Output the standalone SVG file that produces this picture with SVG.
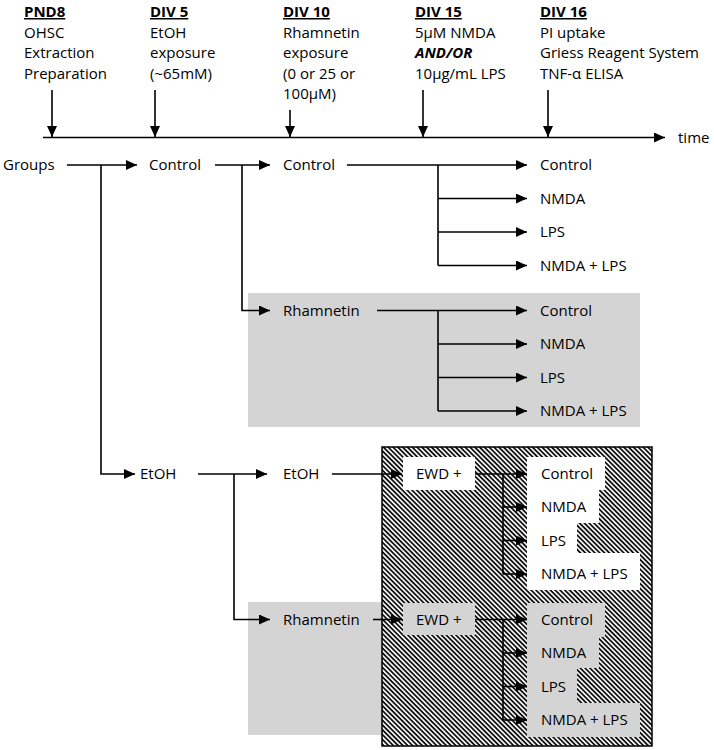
<svg xmlns="http://www.w3.org/2000/svg" width="714" height="750" viewBox="0 0 714 750">
<style>
text{font-family:"Open Sans","Liberation Sans",sans-serif;font-size:15px;fill:#000}
.h{font-weight:bold;text-decoration:underline}
.bi{font-weight:bold;font-style:italic}
.c{fill:none;stroke:#000;stroke-width:1.6}
.a{marker-end:url(#ah)}
.gray{fill:#d4d4d4}
</style>
<defs>
<marker id="ah" markerUnits="userSpaceOnUse" markerWidth="12" markerHeight="11" refX="11" refY="5" orient="auto">
<path d="M0,0 L11,5 L0,10 z" fill="#000"/>
</marker>
<pattern id="hatch" patternUnits="userSpaceOnUse" width="3.4" height="3.4" patternTransform="rotate(45)">
<rect width="3.4" height="3.4" fill="#fff"/>
<rect width="3.4" height="1.8" fill="#111"/>
</pattern>
</defs>

<!-- backgrounds -->
<rect id="rham1-bg" class="gray" x="248" y="293" width="392" height="134"/>
<rect id="rham2-bg" class="gray" x="248" y="602" width="140" height="133"/>
<rect id="ewd-box" x="382" y="447" width="270" height="299" fill="url(#hatch)" stroke="#000" stroke-width="1.5"/>
<rect x="403" y="457" width="72" height="33" fill="#fff"/>
<path d="M527,457 H605 V490 H599 V523 H577 V553 H640 V590 H527 Z" fill="#fff"/>
<rect x="403" y="603" width="72" height="32" fill="#d4d4d4"/>
<path d="M527,603 H605 V637 H599 V668 H577 V703 H640 V737 H527 Z" fill="#d4d4d4"/>

<!-- header -->
<g id="h-pnd8"><text x="24" y="17" class="h">PND8</text><text x="24" y="37.5">OHSC</text><text x="24" y="58">Extraction</text><text x="24" y="78.5">Preparation</text></g>
<g id="h-div5"><text x="150" y="17" class="h">DIV 5</text><text x="150" y="37.5">EtOH</text><text x="150" y="58">exposure</text><text x="150" y="78.5">(~65mM)</text></g>
<g id="h-div10"><text x="283" y="17" class="h">DIV 10</text><text x="283" y="37.5">Rhamnetin</text><text x="283" y="58">exposure</text><text x="283" y="78.5">(0 or 25 or</text><text x="283" y="99">100μM)</text></g>
<g id="h-div15"><text x="415" y="17" class="h">DIV 15</text><text x="415" y="37.5">5μM NMDA</text><text x="415" y="58" class="bi">AND/OR</text><text x="415" y="78.5">10μg/mL LPS</text></g>
<g id="h-div16"><text x="540" y="17" class="h">DIV 16</text><text x="540" y="37.5">PI uptake</text><text x="540" y="58">Griess Reagent System</text><text x="540" y="78.5">TNF-α ELISA</text></g>
<g id="time-label"><text x="678" y="143">time</text></g>

<!-- nodes -->
<g id="groups"><text x="3" y="170">Groups</text></g>
<g id="control1"><text x="149" y="170">Control</text></g>
<g id="control2"><text x="283" y="170">Control</text></g>
<g id="c-control"><text x="540" y="170">Control</text></g>
<g id="c-nmda"><text x="540" y="203.5">NMDA</text></g>
<g id="c-lps"><text x="540" y="237">LPS</text></g>
<g id="c-both"><text x="540" y="270.5">NMDA + LPS</text></g>
<g id="rham1"><text x="283" y="316">Rhamnetin</text></g>
<g id="r-control"><text x="540" y="316">Control</text></g>
<g id="r-nmda"><text x="540" y="349">NMDA</text></g>
<g id="r-lps"><text x="540" y="382.5">LPS</text></g>
<g id="r-both"><text x="540" y="416">NMDA + LPS</text></g>
<g id="etoh1"><text x="140" y="479">EtOH</text></g>
<g id="etoh2"><text x="283" y="479">EtOH</text></g>
<g id="ewd1"><text x="416" y="479">EWD +</text></g>
<g id="e-control"><text x="541" y="479">Control</text></g>
<g id="e-nmda"><text x="541" y="512">NMDA</text></g>
<g id="e-lps"><text x="541" y="545.5">LPS</text></g>
<g id="e-both"><text x="541" y="579">NMDA + LPS</text></g>
<g id="rham2"><text x="283" y="625">Rhamnetin</text></g>
<g id="ewd2"><text x="416" y="625">EWD +</text></g>
<g id="er-control"><text x="541" y="625">Control</text></g>
<g id="er-nmda"><text x="541" y="658">NMDA</text></g>
<g id="er-lps"><text x="541" y="691.5">LPS</text></g>
<g id="er-both"><text x="541" y="725">NMDA + LPS</text></g>

<!-- connectors -->
<g id="connectors">
<path class="c a" d="M43,137.5 H665"/>
<path class="c a" d="M52,90 V137"/>
<path class="c a" d="M155,90 V137"/>
<path class="c a" d="M290,110 V137"/>
<path class="c a" d="M423,90 V137"/>
<path class="c a" d="M548,90 V137"/>

<path class="c a" d="M67,165 H137"/>
<path class="c a" d="M101,165 V474 H135"/>
<path class="c a" d="M215,165 H270"/>
<path class="c a" d="M242,165 V310.5 H270"/>
<path class="c a" d="M347,165 H527"/>
<path class="c" d="M438,165 V265.5"/>
<path class="c a" d="M438,198.5 H527"/>
<path class="c a" d="M438,232 H527"/>
<path class="c a" d="M438,265.5 H527"/>

<path class="c a" d="M377,310.5 H527"/>
<path class="c" d="M438,310.5 V411"/>
<path class="c a" d="M438,344 H527"/>
<path class="c a" d="M438,377.5 H527"/>
<path class="c a" d="M438,411 H527"/>

<path class="c a" d="M198,474 H267"/>
<path class="c a" d="M234,474 V619.5 H270"/>
<path class="c a" d="M332,474 H402"/>
<path class="c a" d="M475,474 H527"/>
<path class="c" d="M503,474 V574"/>
<path class="c a" d="M503,507 H527"/>
<path class="c a" d="M503,540.5 H527"/>
<path class="c a" d="M503,574 H527"/>

<path class="c a" d="M373,619.5 H402"/>
<path class="c a" d="M475,619.5 H527"/>
<path class="c" d="M503,619.5 V720"/>
<path class="c a" d="M503,653 H527"/>
<path class="c a" d="M503,686.5 H527"/>
<path class="c a" d="M503,720 H527"/>
</g>
</svg>
